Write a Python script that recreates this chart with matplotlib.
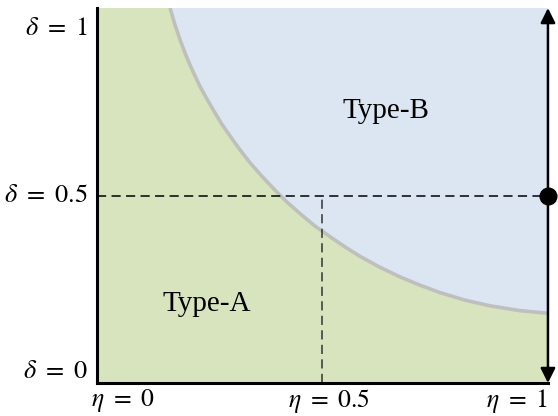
import matplotlib.pyplot as plt
import numpy as np

plt.rcParams['mathtext.fontset'] = 'stix'
plt.rcParams['font.family'] = ['Liberation Serif', 'DejaVu Serif']

# boundary between the two regions
curve_eta = [0.162, 0.173, 0.184, 0.195, 0.206, 0.217, 0.228, 0.244,
             0.262, 0.277, 0.295, 0.317, 0.339, 0.366, 0.395, 0.421,
             0.450, 0.483, 0.517, 0.550, 0.583, 0.627, 0.672, 0.716,
             0.761, 0.816, 0.871, 0.938, 1.0]
curve_delta = [1.0, 0.955, 0.916, 0.881, 0.849, 0.820, 0.792, 0.757,
               0.720, 0.690, 0.659, 0.622, 0.588, 0.551, 0.514, 0.483,
               0.452, 0.419, 0.390, 0.363, 0.338, 0.309, 0.283, 0.261,
               0.241, 0.221, 0.206, 0.193, 0.186]

delta_ticks = [0, 0.5, 1]
delta_labels = [r'$\delta\ =\ 0$', r'$\delta\ =\ 0.5$', r'$\delta\ =\ 1$']
eta_ticks = [0, 0.5, 1]
eta_labels = [r'$\eta\ =\ 0$', r'$\eta\ =\ 0.5$', r'$\eta\ =\ 1$']

point_eta, point_delta = 1.0, 0.5
region_names = ['Type-A', 'Type-B']
region_pos = [(0.243, 0.21), (0.64, 0.725)]

green = '#d7e4bd'
blue = '#dce6f2'

fig = plt.figure(figsize=(5.58, 4.16), dpi=100)
ax = fig.add_axes([0.1738, 0.0793, 0.8082, 0.9014])
ax.set_xlim(0, 1)
ax.set_ylim(0, 1)

ce = np.array(curve_eta)
cd = np.array(curve_delta)

# green region (below curve) and blue region (above curve)
ax.fill(np.concatenate([[0, 0], ce, [1]]),
        np.concatenate([[0, 1], cd, [0]]), color=green, lw=0, zorder=1)
ax.fill(np.concatenate([ce, [1]]),
        np.concatenate([cd, [1]]), color=blue, lw=0, zorder=1)
ax.plot(ce, cd, color='#bfbfbf', lw=2.6, zorder=2, solid_capstyle='butt',
        solid_joinstyle='round')

# dashed guides
ax.plot([0, point_eta], [point_delta, point_delta], color='black', lw=1.1,
        ls=(0, (6, 3.5)), zorder=3)
ax.plot([0.5, 0.5], [0, 0.5], color='#333333', lw=1.1,
        ls=(0, (6, 3.5)), zorder=3)

# double arrow on the right
ax.annotate('', xy=(1, 1), xytext=(1, 0),
            arrowprops=dict(arrowstyle='<|-|>', color='black', lw=1.8,
                            mutation_scale=22, shrinkA=0, shrinkB=0),
            annotation_clip=False, zorder=4)
ax.plot([point_eta], [point_delta], 'o', color='black', ms=12,
        clip_on=False, zorder=5)

for name, (x, y) in zip(region_names, region_pos):
    ax.text(x, y, name, fontsize=21, ha='center', va='center', zorder=6)

# axes
for s in ['top', 'right']:
    ax.spines[s].set_visible(False)
for s in ['left', 'bottom']:
    ax.spines[s].set_linewidth(2.2)
    ax.spines[s].set_zorder(7)
ax.set_xticks([])
ax.set_yticks([])

dy_off = [0.03, 0.0, -0.055]
for t, lab, off in zip(delta_ticks, delta_labels, dy_off):
    ax.text(-0.02, t + off, lab, fontsize=19, ha='right', va='center',
            clip_on=False)

ex_off = [0.058, 0.514, 1.0]
ex_ha = ['center', 'center', 'right']
for t, lab, x, ha in zip(eta_ticks, eta_labels, ex_off, ex_ha):
    ax.text(x, -0.047, lab, fontsize=18.5, ha=ha, va='center', clip_on=False)

fig.savefig('out.png', dpi=100)
